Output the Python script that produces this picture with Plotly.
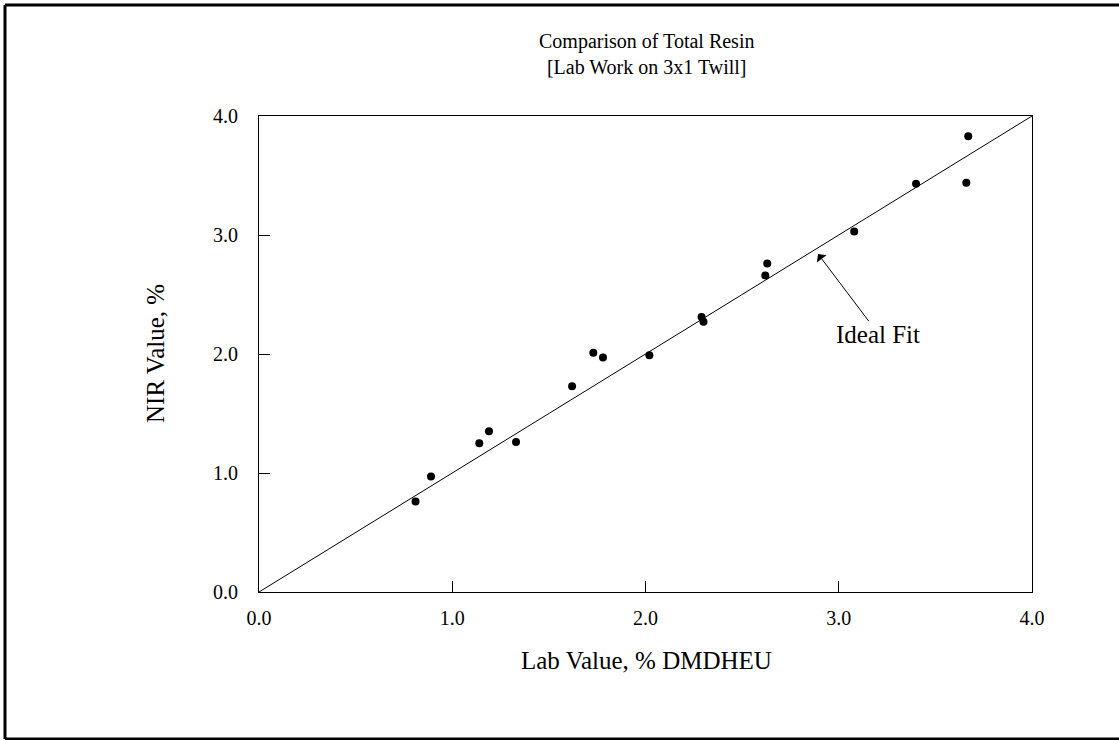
import plotly.graph_objects as go

lab_value = [0.81, 0.89, 1.14, 1.19, 1.33, 1.62, 1.73, 1.78, 2.02, 2.29, 2.30, 2.62, 2.63, 3.08, 3.40, 3.66, 3.67]
nir_value = [0.76, 0.97, 1.25, 1.35, 1.26, 1.73, 2.01, 1.97, 1.99, 2.31, 2.27, 2.66, 2.76, 3.03, 3.43, 3.44, 3.83]
ideal_x = [0.0, 4.0]
ideal_y = [0.0, 4.0]
tick_vals = [0.0, 1.0, 2.0, 3.0, 4.0]
tick_text = ["0.0", "1.0", "2.0", "3.0", "4.0"]

FONT = "Liberation Serif, Times New Roman, serif"
W, H = 1119, 740
L, R, T, B = 259, 87, 116, 148
pw, ph = W - L - R, H - T - B

def px(xp):
    return (xp - L) / pw

def py(yp):
    return (H - B - yp) / ph

fig = go.Figure()
fig.add_trace(go.Scatter(x=ideal_x, y=ideal_y, mode="lines",
                         line=dict(color="black", width=1), hoverinfo="skip"))
fig.add_trace(go.Scatter(x=lab_value, y=nir_value, mode="markers",
                         marker=dict(color="black", size=8, symbol="circle")))

axis_common = dict(range=[0, 4], tickvals=tick_vals, ticktext=tick_text,
                   ticks="inside", ticklen=11, tickwidth=1, tickcolor="black",
                   showline=True, linecolor="black", linewidth=1, mirror=True,
                   showgrid=False, zeroline=False,
                   tickfont=dict(family=FONT, size=20, color="black"))

fig.update_xaxes(**axis_common, ticklabelstandoff=8)
fig.update_yaxes(**axis_common, ticklabelstandoff=16)

fig.update_layout(
    width=W, height=H,
    margin=dict(l=L, r=R, t=T, b=B, autoexpand=False),
    plot_bgcolor="white", paper_bgcolor="white",
    showlegend=False,
    font=dict(family=FONT, color="black"),
    annotations=[
        dict(text="Comparison of Total Resin<br>[Lab Work on 3x1 Twill]",
             xref="paper", yref="paper", x=px(646), y=py(53.5),
             xanchor="center", yanchor="middle", showarrow=False,
             font=dict(family=FONT, size=20, color="black")),
        dict(text="Lab Value, % DMDHEU", xref="paper", yref="paper",
             x=px(646), y=py(660), xanchor="center", yanchor="middle",
             showarrow=False, font=dict(family=FONT, size=25, color="black")),
        dict(text="NIR Value, %", xref="paper", yref="paper",
             x=px(155), y=py(354), xanchor="center", yanchor="middle",
             textangle=-90, showarrow=False,
             font=dict(family=FONT, size=25, color="black")),
        dict(text="", x=2.893, y=2.840, ax=3.161, ay=2.264,
             xref="x", yref="y", axref="x", ayref="y",
             showarrow=True, arrowhead=1, arrowsize=2, arrowwidth=1,
             arrowcolor="black"),
        dict(text="Ideal Fit", x=3.204, y=2.16, xref="x", yref="y",
             xanchor="center", yanchor="middle", showarrow=False,
             font=dict(family=FONT, size=25, color="black")),
    ],
    shapes=[
        dict(type="line", xref="paper", yref="paper",
             x0=px(5), y0=py(5), x1=px(1125), y1=py(5),
             line=dict(color="black", width=3)),
        dict(type="line", xref="paper", yref="paper",
             x0=px(5), y0=py(5), x1=px(5), y1=py(739),
             line=dict(color="black", width=3)),
        dict(type="line", xref="paper", yref="paper",
             x0=px(5), y0=py(739), x1=px(1125), y1=py(739),
             line=dict(color="black", width=3)),
    ],
)

fig.write_html("out.html",
               config={"displayModeBar": False},
               post_script="document.body.style.margin='0';document.body.style.overflow='hidden';")
